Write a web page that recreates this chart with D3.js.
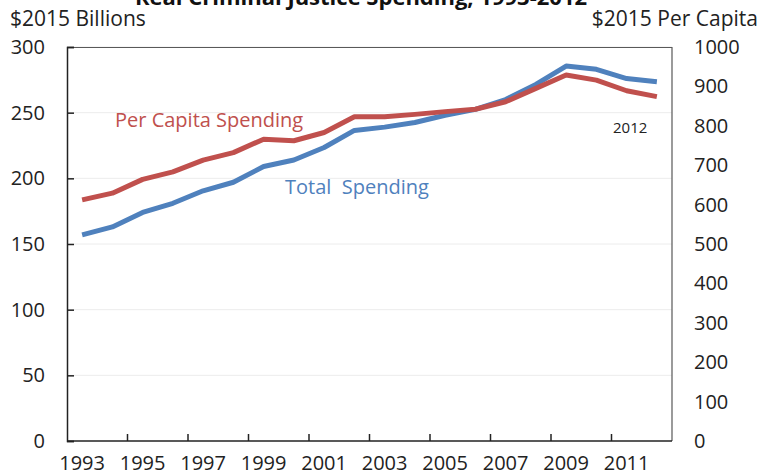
<!DOCTYPE html>
<html>
<head>
<meta charset="utf-8">
<script src="https://cdn.jsdelivr.net/npm/d3@7"></script>
<style>
  body { margin: 0; background: #fff; }
  text { font-family: "Open Sans", sans-serif; }
</style>
</head>
<body>
<div id="chart"></div>
<script>
// data
var years = [1993, 1994, 1995, 1996, 1997, 1998, 1999, 2000, 2001, 2002,
             2003, 2004, 2005, 2006, 2007, 2008, 2009, 2010, 2011, 2012];
var totalSpending = [157, 163, 174, 181, 190.5, 197, 209, 214, 223.5, 236.5,
                     239, 242.5, 248, 252.5, 260, 271.5, 285.5, 283, 276, 273.5];
var perCapita = [612, 629, 664, 683, 713, 732, 766, 762, 783, 823,
                 823, 829, 836, 842, 861, 895, 929, 916, 889, 874];
var leftTicks = [0, 50, 100, 150, 200, 250, 300];
var rightTicks = [0, 100, 200, 300, 400, 500, 600, 700, 800, 900, 1000];
var yearLabels = [1993, 1995, 1997, 1999, 2001, 2003, 2005, 2007, 2009, 2011];

var svgWidth = 760;
var svgHeight = 476;
var margin = { top: 47, bottom: 35, left: 67, right: 88 };
var width = svgWidth - margin.left - margin.right;
var height = svgHeight - margin.top - margin.bottom;

var blue = "#4f81bd";
var red = "#c0504d";

var svg = d3.select("#chart")
  .append("svg")
  .attr("width", svgWidth)
  .attr("height", svgHeight);

var chartGroup = svg.append("g")
  .attr("transform", `translate(${margin.left}, ${margin.top})`);

// scales
var xBand = d3.scaleBand().domain(years).range([0, width]).padding(0);
var xPoint = d3.scalePoint().domain(years).range([0, width]).padding(0.5);
var yLeft = d3.scaleLinear().domain([0, 300]).range([height, 0]);
var yRight = d3.scaleLinear().domain([0, 1000]).range([height, 0]);

// gridlines
chartGroup.selectAll("line.grid")
  .data(leftTicks.filter(d => d > 0))
  .enter()
  .append("line")
  .attr("class", "grid")
  .attr("x1", 0)
  .attr("x2", width)
  .attr("y1", d => yLeft(d))
  .attr("y2", d => yLeft(d))
  .attr("stroke", "#ececec")
  .attr("stroke-width", 1);

// plot border (top + right)
chartGroup.append("path")
  .attr("d", `M0,0.5H${width}V${height}`)
  .attr("fill", "none")
  .attr("stroke", "#595959")
  .attr("stroke-width", 1.2);

// left axis, ticks pointing inside
var leftAxis = d3.axisLeft(yLeft).tickValues(leftTicks).tickSize(-7).tickPadding(22);
var gLeft = chartGroup.append("g").call(leftAxis);
gLeft.select(".domain").attr("stroke", "#222").attr("stroke-width", 1.5);
gLeft.selectAll(".tick line").attr("stroke", "#222").attr("stroke-width", 1.5);
gLeft.selectAll("text")
  .style("font-family", "Open Sans")
  .style("font-size", "20px")
  .attr("fill", "#222");

// right axis labels only
var rightAxis = d3.axisRight(yRight)
  .tickValues(rightTicks)
  .tickFormat(d3.format("d"))
  .tickSize(0)
  .tickPadding(22);
var gRight = chartGroup.append("g")
  .attr("transform", `translate(${width}, 0)`)
  .call(rightAxis);
gRight.select(".domain").remove();
gRight.selectAll("text")
  .style("font-family", "Open Sans")
  .style("font-size", "20px")
  .attr("fill", "#222");

// bottom axis
var gBottom = chartGroup.append("g")
  .attr("transform", `translate(0, ${height})`);
gBottom.append("line")
  .attr("x1", 0).attr("x2", width)
  .attr("stroke", "#222").attr("stroke-width", 1.5);
gBottom.selectAll("line.xtick")
  .data(yearLabels.filter(d => d > 1993))
  .enter()
  .append("line")
  .attr("class", "xtick")
  .attr("x1", d => xBand(d))
  .attr("x2", d => xBand(d))
  .attr("y1", 0)
  .attr("y2", -7)
  .attr("stroke", "#222")
  .attr("stroke-width", 1.5);
gBottom.selectAll("text.xlabel")
  .data(yearLabels)
  .enter()
  .append("text")
  .attr("class", "xlabel")
  .attr("x", d => xPoint(d))
  .attr("y", 29)
  .style("text-anchor", "middle")
  .style("font-size", "20px")
  .attr("fill", "#222")
  .text(d => d);

// lines
var totalLine = d3.line()
  .x((d, i) => xPoint(years[i]))
  .y(d => yLeft(d));
var perCapitaLine = d3.line()
  .x((d, i) => xPoint(years[i]))
  .y(d => yRight(d));

chartGroup.append("path")
  .datum(totalSpending)
  .attr("d", totalLine)
  .attr("fill", "none")
  .attr("stroke", blue)
  .attr("stroke-width", 5)
  .attr("stroke-linejoin", "round");

chartGroup.append("path")
  .datum(perCapita)
  .attr("d", perCapitaLine)
  .attr("fill", "none")
  .attr("stroke", red)
  .attr("stroke-width", 5)
  .attr("stroke-linejoin", "round");

// series labels
svg.append("text")
  .attr("x", 115)
  .attr("y", 127)
  .style("font-size", "20px")
  .attr("fill", red)
  .text("Per Capita Spending");

svg.append("text")
  .attr("x", 285)
  .attr("y", 194)
  .style("font-size", "20px")
  .style("white-space", "pre")
  .attr("fill", blue)
  .text("Total  Spending");

svg.append("text")
  .attr("x", 613)
  .attr("y", 133)
  .style("font-size", "15px")
  .attr("fill", "#222")
  .text("2012");

// axis titles
svg.append("text")
  .attr("x", 10)
  .attr("y", 26)
  .style("font-size", "21px")
  .attr("fill", "#222")
  .text("$2015 Billions");

svg.append("text")
  .attr("x", 758)
  .attr("y", 26)
  .style("text-anchor", "end")
  .style("font-size", "21px")
  .attr("fill", "#222")
  .text("$2015 Per Capita");

// chart title, cut off at the top edge as in the reference
svg.append("text")
  .attr("x", 361)
  .attr("y", 5)
  .style("text-anchor", "middle")
  .style("font-size", "22px")
  .style("font-weight", "bold")
  .attr("fill", "#111")
  .text("Real Criminal Justice Spending, 1993-2012");
</script>
</body>
</html>
